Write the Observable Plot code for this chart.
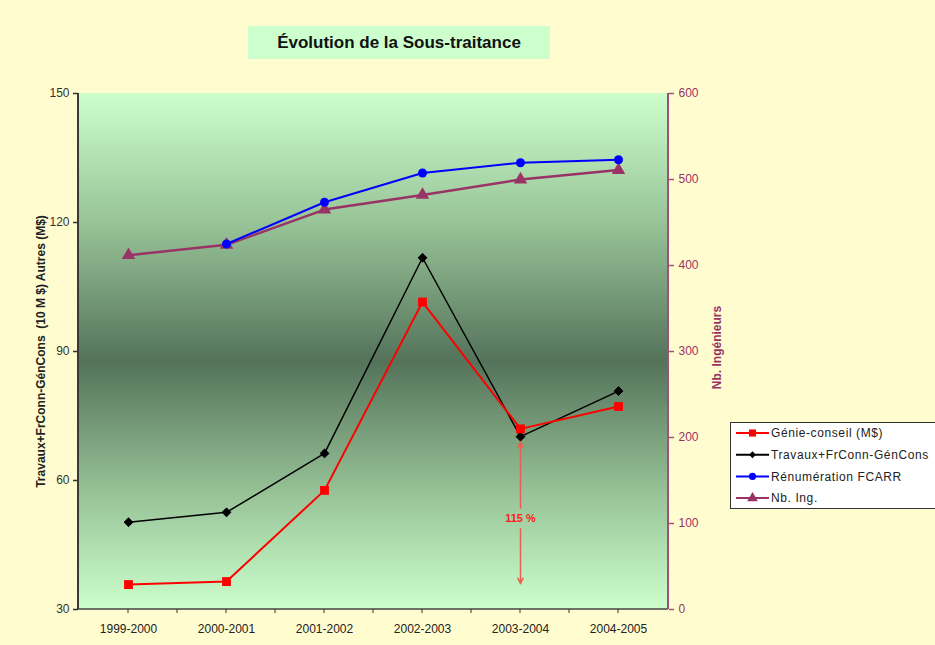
<!DOCTYPE html>
<html>
<head>
<meta charset="utf-8">
<script src="https://cdn.jsdelivr.net/npm/d3@7"></script>
<script src="https://cdn.jsdelivr.net/npm/@observablehq/plot@0.6"></script>
<style>
  html, body { margin: 0; padding: 0; }
  body { width: 935px; height: 645px; overflow: hidden; background: #FFFDD0; position: relative; font-family: "Liberation Sans", Arial, sans-serif; }
  #title { position: absolute; left: 248px; top: 26px; width: 302px; height: 33px; background: #CCFFCC;
           font-weight: bold; font-size: 17px; line-height: 33px; text-align: center; color: #111; }
  #chart { position: absolute; left: 0; top: 0; }
  #legend { position: absolute; left: 730px; top: 422px; width: 215px; height: 85px; background: #fff; border: 1px solid #333; }
</style>
</head>
<body>
<div id="chart"></div>
<div id="title">Évolution de la Sous-traitance</div>
<div id="legend"></div>
<script>
// ---- Data ----
const years = ["1999-2000", "2000-2001", "2001-2002", "2002-2003", "2003-2004", "2004-2005"];
const genieConseil = [35.8, 36.5, 57.7, 101.5, 72.0, 77.2];      // M$ (left axis)
const travaux = [50.3, 52.6, 66.3, 111.8, 70.2, 80.8];           // 10 M$ (left axis)
const remuneration = [null, 115.0, 124.7, 131.5, 133.9, 134.6];  // M$ (left axis)
const nbIng = [412, 424, 465, 482, 500, 511];                    // right axis
const leftTicks = [30, 60, 90, 120, 150];
const rightTicks = [0, 100, 200, 300, 400, 500, 600];
const seriesNames = ["Génie-conseil (M$)", "Travaux+FrConn-GénCons", "Rénumération FCARR", "Nb. Ing."];
const leftTitle = "Travaux+FrConn-GénCons  (10 M $) Autres (M$)";
const rightTitle = "Nb. Ingénieurs";
const annotation = {year: "2003-2004", label: "115 %", labelAt: 51.2, from: 69, to: 36, gapTop: 53.6, gapBottom: 48.8};

// right-axis values mapped onto left-axis domain
const leftMin = 30, leftMax = 150, rightMax = 600;
const toLeft = v => leftMin + v * (leftMax - leftMin) / rightMax;
const fromLeft = d => Math.round((d - leftMin) * rightMax / (leftMax - leftMin));

const rows = years.map((year, i) => ({
  year, genie: genieConseil[i], travaux: travaux[i], remun: remuneration[i], ing: toLeft(nbIng[i])
}));

const colors = {genie: "#FF0000", travaux: "#000000", remun: "#0000FF", ing: "#993366"};

function backdrop(index, scales, values, dim) {
  const {width, height, marginLeft, marginRight, marginTop, marginBottom} = dim;
  const g = d3.create("svg:g");
  const lg = g.append("defs").append("linearGradient").attr("id", "bggrad")
    .attr("x1", 0).attr("y1", 0).attr("x2", 0).attr("y2", 1);
  [["0%", "#CCFFCC"], ["25%", "#98C498"], ["52%", "#54735A"], ["78%", "#98C498"], ["100%", "#CCFFCC"]]
    .forEach(([o, c]) => lg.append("stop").attr("offset", o).attr("stop-color", c));
  g.append("rect").attr("x", marginLeft).attr("y", marginTop)
    .attr("width", width - marginLeft - marginRight).attr("height", height - marginTop - marginBottom)
    .attr("fill", "url(#bggrad)");
  return g.node();
}

function axisLines(index, scales, values, dim) {
  const {width, height, marginLeft, marginRight, marginTop, marginBottom} = dim;
  const g = d3.create("svg:g");
  const x0 = marginLeft, x1 = width - marginRight, y0 = marginTop, y1 = height - marginBottom;
  g.append("line").attr("x1", x0).attr("x2", x1).attr("y1", y1).attr("y2", y1).attr("stroke", "#444").attr("stroke-width", 1.5);
  g.append("line").attr("x1", x0).attr("x2", x0).attr("y1", y0).attr("y2", y1).attr("stroke", "#3a3a3a").attr("stroke-width", 2);
  g.append("line").attr("x1", x1).attr("x2", x1).attr("y1", y0).attr("y2", y1).attr("stroke", "#A0507A").attr("stroke-width", 2);
  const step = scales.x(years[1]) - scales.x(years[0]);
  years.forEach(y => {
    [scales.x(y), scales.x(y) + step / 2].forEach(px => {
      if (px < x1 - 2) g.append("line").attr("x1", px).attr("x2", px).attr("y1", y1).attr("y2", y1 + 4).attr("stroke", "#333");
    });
  });
  return g.node();
}

const chart = Plot.plot({
  width: 935,
  height: 645,
  marginLeft: 78,
  marginRight: 267,
  marginTop: 93,
  marginBottom: 36,
  style: {background: "transparent", fontFamily: "'Liberation Sans', Arial, sans-serif", fontSize: "12px", overflow: "visible"},
  x: {type: "point", domain: years, padding: 0.5, axis: null},
  y: {domain: [leftMin, leftMax], axis: null},
  marks: [
    backdrop,
    axisLines,
    Plot.axisX({ticks: years, tickSize: 0, tickPadding: 15, fill: "#222", label: null, fontSize: 12}),
    Plot.axisY({anchor: "left", ticks: leftTicks, tickSize: 5, tickPadding: 4, stroke: "#333", fill: "#333", label: null, fontSize: 12, strokeWidth: 1.5}),
    Plot.axisY({anchor: "right", ticks: rightTicks.map(toLeft), tickFormat: fromLeft, tickSize: 5, tickPadding: 5,
                stroke: "#A0507A", fill: "#993366", label: null, fontSize: 12, strokeWidth: 1.5}),
    Plot.text([leftTitle], {frameAnchor: "left", textAnchor: "middle", text: d => d, rotate: -90, dx: -37, dy: 0,
                            fontWeight: "bold", fontSize: 12, fill: "#222", style: "letter-spacing:0.8px"}),
    Plot.text([rightTitle], {frameAnchor: "right", textAnchor: "middle", text: d => d, rotate: -90, dx: 49, dy: -4,
                             fontWeight: "bold", fontSize: 12, fill: "#993366", style: "letter-spacing:0.4px"}),
    // annotation arrow
    Plot.arrow([annotation], {x1: "year", x2: "year", y1: "gapTop", y2: "from", stroke: "#E8604F", strokeWidth: 1.5, headLength: 6, headAngle: 50}),
    Plot.arrow([annotation], {x1: "year", x2: "year", y1: "gapBottom", y2: "to", stroke: "#E8604F", strokeWidth: 1.5, headLength: 6, headAngle: 50}),
    Plot.text([annotation], {x: "year", y: "labelAt", text: "label", fill: "#FF2020", fontWeight: "bold", fontSize: 11}),
    // series
    Plot.line(rows, {x: "year", y: "ing", stroke: colors.ing, strokeWidth: 2.5}),
    Plot.dot(rows, {x: "year", y: "ing", symbol: "triangle", fill: colors.ing, r: 5}),
    Plot.line(rows, {x: "year", y: "remun", stroke: colors.remun, strokeWidth: 2}),
    Plot.dot(rows, {x: "year", y: "remun", symbol: "circle", fill: colors.remun, r: 4.5}),
    Plot.line(rows, {x: "year", y: "travaux", stroke: colors.travaux, strokeWidth: 1.5}),
    Plot.dot(rows, {x: "year", y: "travaux", symbol: "diamond2", fill: colors.travaux, stroke: colors.travaux, strokeWidth: 1, r: 4}),
    Plot.line(rows, {x: "year", y: "genie", stroke: colors.genie, strokeWidth: 2}),
    Plot.dot(rows, {x: "year", y: "genie", symbol: "square", fill: colors.genie, r: 5})
  ]
});
document.getElementById("chart").appendChild(chart);

// ---- Legend ----
const legendSymbols = ["square", "diamond2", "circle", "triangle"];
const legendColors = [colors.genie, colors.travaux, colors.remun, colors.ing];
const symMap = {square: d3.symbolSquare, diamond2: d3.symbolDiamond2, circle: d3.symbolCircle, triangle: d3.symbolTriangle};
const lsvg = d3.select("#legend").append("svg").attr("width", 215).attr("height", 85)
  .style("font-family", "'Liberation Sans', Arial, sans-serif");
seriesNames.forEach((name, i) => {
  const cy = 10 + i * 21.7;
  const g = lsvg.append("g");
  g.append("line").attr("x1", 5).attr("x2", 38).attr("y1", cy).attr("y2", cy)
    .attr("stroke", legendColors[i]).attr("stroke-width", 2);
  g.append("path").attr("d", d3.symbol(symMap[legendSymbols[i]], legendSymbols[i] === "diamond2" ? 30 : legendSymbols[i] === "circle" ? 40 : 50)())
    .attr("transform", `translate(21.5,${cy})`).attr("fill", legendColors[i]);
  g.append("text").attr("x", 40).attr("y", cy).attr("dy", "0.35em").attr("font-size", 12)
    .attr("fill", "#222").style("letter-spacing", "0.6px").text(name);
});
</script>
</body>
</html>
